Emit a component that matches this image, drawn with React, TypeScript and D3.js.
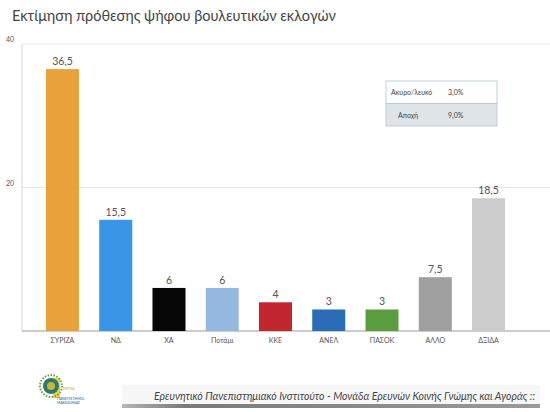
import React, { useEffect, useRef } from 'react';
import * as d3 from 'd3';

const categories = ['ΣΥΡΙΖΑ', 'ΝΔ', 'ΧΑ', 'Ποτάμι', 'ΚΚΕ', 'ΑΝΕΛ', 'ΠΑΣΟΚ', 'ΑΛΛΟ', 'ΔΞΙΔΑ'];
const values = [36.5, 15.5, 6, 6, 4, 3, 3, 7.5, 18.5];
const barColors = ['#e9a23b', '#3b95e6', '#050505', '#94b8de', '#c1272d', '#2b6cb6', '#5a9d3f', '#9f9f9f', '#cbcbcb'];
const yTicks = [20, 40];
const tableRows = ['Ακυρο/λευκό', 'Αποχή'];
const tableValues = ['3,0%', '9,0%'];

const fmt = (v: number) => String(v).replace('.', ',');

const App: React.FC = () => {
  const ref = useRef<SVGSVGElement | null>(null);

  useEffect(() => {
    if (!ref.current) return;
    const width = 550;
    const height = 412;
    const svg = d3.select(ref.current);
    svg.selectAll('*').remove();

    const font = 'Lato, "Open Sans", sans-serif';

    // title
    svg.append('text')
      .attr('x', 12).attr('y', 21)
      .attr('font-family', font).attr('font-size', 14.5)
      .attr('fill', '#444')
      .text('Εκτίμηση πρόθεσης ψήφου βουλευτικών εκλογών');

    const left = 22;
    const x = d3.scaleBand<string>()
      .domain(categories)
      .range([left, 529])
      .paddingInner(0.38)
      .paddingOuter(0.45);
    const y = d3.scaleLinear().domain([0, 40]).range([331, 44]);

    // gridlines
    yTicks.forEach(t => {
      svg.append('line')
        .attr('x1', left).attr('x2', width)
        .attr('y1', y(t)).attr('y2', y(t))
        .attr('stroke', '#e6e6e6').attr('stroke-width', 1);
      svg.append('text')
        .attr('x', 14).attr('y', y(t) - 2)
        .attr('text-anchor', 'end')
        .attr('font-family', font).attr('font-size', 7)
        .attr('fill', '#555')
        .text(t);
    });

    // axes
    svg.append('line')
      .attr('x1', left).attr('x2', left)
      .attr('y1', y(40)).attr('y2', y(0))
      .attr('stroke', '#d8d8d8');
    svg.append('line')
      .attr('x1', left).attr('x2', width)
      .attr('y1', y(0)).attr('y2', y(0))
      .attr('stroke', '#9a9a9a');

    const bars = svg.append('g');
    bars.selectAll('rect')
      .data(values)
      .enter()
      .append('rect')
      .attr('x', (d, i) => x(categories[i]) as number)
      .attr('y', d => y(d))
      .attr('width', x.bandwidth())
      .attr('height', d => y(0) - y(d))
      .attr('fill', (d, i) => barColors[i]);

    bars.selectAll('text.val')
      .data(values)
      .enter()
      .append('text')
      .attr('class', 'val')
      .attr('x', (d, i) => (x(categories[i]) as number) + x.bandwidth() / 2)
      .attr('y', d => y(d) - 4)
      .attr('text-anchor', 'middle')
      .attr('font-family', font).attr('font-size', 10.5)
      .attr('fill', '#555')
      .text(d => fmt(d));

    bars.selectAll('text.cat')
      .data(categories)
      .enter()
      .append('text')
      .attr('class', 'cat')
      .attr('x', d => (x(d) as number) + x.bandwidth() / 2)
      .attr('y', y(0) + 12)
      .attr('text-anchor', 'middle')
      .attr('font-family', font).attr('font-size', 7)
      .attr('fill', '#555')
      .text(d => d);

    // small table
    const tx = 386, ty = 81, tw = 111, rh = 22.5;
    tableRows.forEach((r, i) => {
      svg.append('rect')
        .attr('x', tx).attr('y', ty + i * rh)
        .attr('width', tw).attr('height', rh)
        .attr('fill', i === 0 ? '#ffffff' : '#dfe4e9')
        .attr('stroke', '#b2c6d6').attr('stroke-width', 0.8);
      svg.append('text')
        .attr('x', i === 0 ? tx + 5 : tx + 12).attr('y', ty + i * rh + 14)
        .attr('font-family', font).attr('font-size', 7)
        .attr('fill', '#444')
        .text(r);
      svg.append('text')
        .attr('x', tx + 62).attr('y', ty + i * rh + 14)
        .attr('font-family', font).attr('font-size', 7)
        .attr('fill', '#444')
        .text(tableValues[i]);
    });

    // footer logo
    const logo = svg.append('g');
    logo.append('rect').attr('x', 53).attr('y', 378).attr('width', 7).attr('height', 20).attr('fill', '#f2cf4a');
    logo.append('circle').attr('cx', 51).attr('cy', 386).attr('r', 11)
      .attr('fill', 'none').attr('stroke', '#7a9a2e').attr('stroke-width', 2).attr('stroke-dasharray', '1.5,1.5');
    logo.append('circle').attr('cx', 51).attr('cy', 386).attr('r', 8).attr('fill', '#2e7a6a');
    logo.append('circle').attr('cx', 51).attr('cy', 386).attr('r', 4).attr('fill', '#c8b43a');
    logo.append('text').attr('x', 57).attr('y', 400)
      .attr('font-family', font).attr('font-size', 3.5).attr('fill', '#2a5a8a')
      .text('ΠΑΝΕΠΙΣΤΗΜΙΟ');
    logo.append('text').attr('x', 57).attr('y', 404)
      .attr('font-family', font).attr('font-size', 3.5).attr('fill', '#2a5a8a')
      .text('ΜΑΚΕΔΟΝΙΑΣ');
    logo.append('text').attr('x', 63).attr('y', 390)
      .attr('font-family', font).attr('font-size', 3).attr('fill', '#c9a53a')
      .text('ΕΡΕΥΝΑ');

    // footer banner
    const grad = svg.append('defs').append('linearGradient').attr('id', 'brush');
    grad.append('stop').attr('offset', '0%').attr('stop-color', '#b5b5b5');
    grad.append('stop').attr('offset', '15%').attr('stop-color', '#7a7a7a');
    grad.append('stop').attr('offset', '100%').attr('stop-color', '#9a9a9a');
    svg.append('rect').attr('x', 122).attr('y', 385).attr('width', 418).attr('height', 19).attr('fill', '#f7f7f7');
    svg.append('rect').attr('x', 122).attr('y', 404).attr('width', 418).attr('height', 4).attr('fill', 'url(#brush)');
    svg.append('text')
      .attr('x', 535).attr('y', 400)
      .attr('text-anchor', 'end')
      .attr('font-family', font).attr('font-size', 10.5).attr('font-style', 'italic')
      .attr('fill', '#444')
      .text('Ερευνητικό Πανεπιστημιακό Ινστιτούτο - Μονάδα Ερευνών Κοινής Γνώμης και Αγοράς ::');

    svg.attr('width', width).attr('height', height);
  }, []);

  return (
    <svg ref={ref} width={550} height={412}
      style={{ position: 'fixed', left: 0, top: 0, background: '#fff' }} />
  );
};

export default App;
